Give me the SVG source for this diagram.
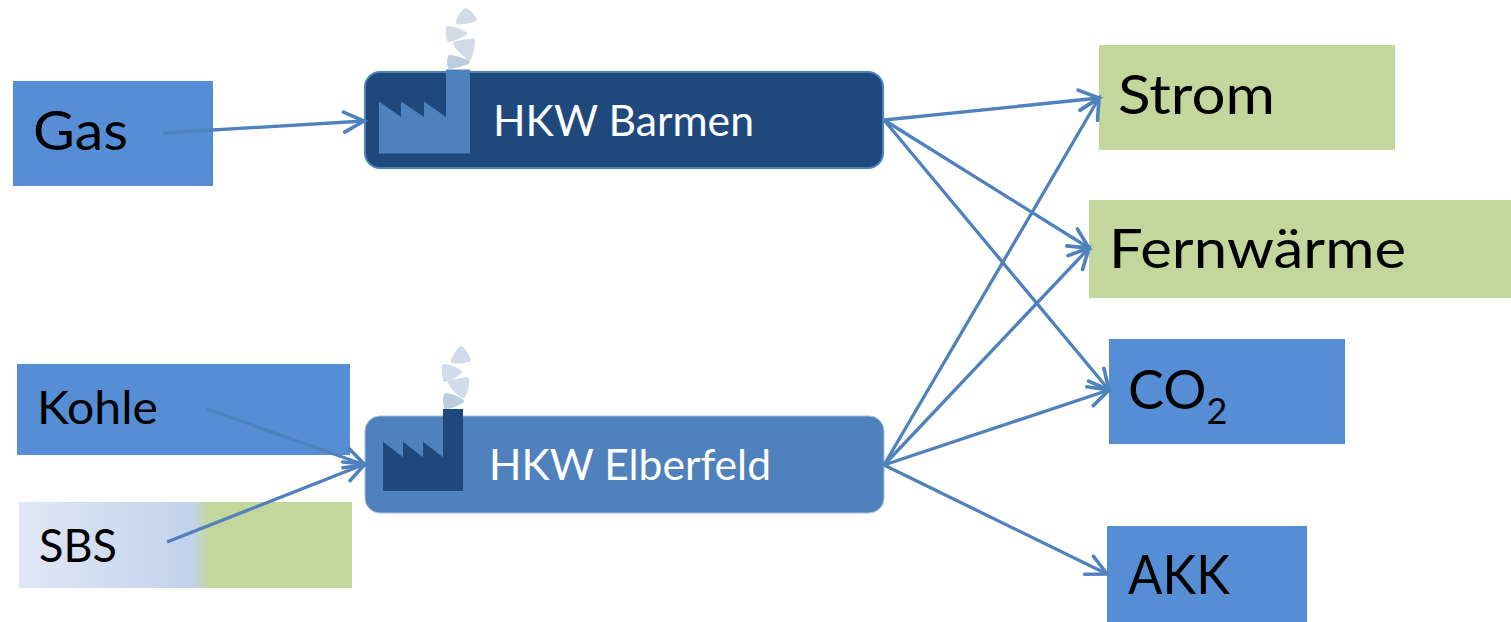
<svg xmlns="http://www.w3.org/2000/svg" width="1511" height="622" viewBox="0 0 1511 622">
<style>
text{font-family:"Lato","Carlito","Open Sans",sans-serif;fill:#000}
text.w{fill:#fff;font-size:42px}
.blue{fill:#558ed5}
.green{fill:#c3d69b}
.c{fill:none;stroke:#4f81bd;stroke-width:3.300;marker-end:url(#a)}
.p1{fill:#d2dce9;stroke:#d2dce9;stroke-width:4;stroke-linejoin:round}
.p2{fill:#bccde0;stroke:#bccde0;stroke-width:4;stroke-linejoin:round}
</style>
<defs>
<linearGradient id="g" x1="0" y1="0" x2="1" y2="0"><stop offset="0" stop-color="#e1e7f5"/><stop offset=".52" stop-color="#c2d2ec"/><stop offset=".57" stop-color="#c3d69b"/><stop offset="1" stop-color="#c3d69b"/></linearGradient>
<marker id="a" viewBox="-24 -14 28 28" refX="0" refY="0" markerWidth="28" markerHeight="28" markerUnits="userSpaceOnUse" orient="auto"><path d="M-20,-10L0,0L-20,10" fill="none" stroke="#4f81bd" stroke-width="3.600" stroke-linecap="round"/></marker>
</defs>
<g id="gas"><rect class="blue" x="13" y="81" width="200" height="105"/><text x="33" y="150" font-size="55" textLength="95" lengthAdjust="spacingAndGlyphs">Gas</text></g>
<g id="kohle"><rect class="blue" x="17" y="364" width="333" height="91"/><text x="37" y="424" font-size="47" textLength="121" lengthAdjust="spacingAndGlyphs">Kohle</text></g>
<g id="sbs"><rect fill="url(#g)" x="19" y="502" width="333" height="86"/><text x="39" y="562" font-size="47" textLength="78" lengthAdjust="spacingAndGlyphs">SBS</text></g>
<g id="strom"><rect class="green" x="1099" y="45" width="296" height="105"/><text x="1118" y="114" font-size="55" textLength="157" lengthAdjust="spacingAndGlyphs">Strom</text></g>
<g id="fernwaerme"><rect class="green" x="1089" y="200" width="422" height="98"/><text x="1109" y="268" font-size="55" textLength="297" lengthAdjust="spacingAndGlyphs">Fernwärme</text></g>
<g id="co2"><rect class="blue" x="1109" y="339" width="236" height="105"/><text x="1128" y="409" font-size="54">CO<tspan font-size="36" dy="15">2</tspan></text></g>
<g id="akk"><rect class="blue" x="1107" y="526" width="200" height="96"/><text x="1128" y="594" font-size="55" textLength="102" lengthAdjust="spacingAndGlyphs">AKK</text></g>
<g id="barmen"><rect x="365" y="72" width="518" height="96" rx="15" fill="#1f497d" stroke="#4f81bd" stroke-width="2"/>
<path fill="#4f81bd" d="M379,153.500V101.500L401,117V101.500L424,117V101.500L446,117V69.500H470V153.500Z"/>
<g transform="translate(1 0)"><path class="p1" d="M464.500,10Q470,13 474,19.500Q466,22 457,22.500Q459,14 464.500,10Z"/><path class="p1" d="M447,28Q456,29 464,33.500Q457,38 448,40Q446,34 447,28Z"/><path class="p1" d="M472,40.500Q463,41 454,43.500Q459,52 468,58Q472,50 472,40.500Z"/><path class="p2" d="M449,57Q458,58 467,62Q458,66 449,67Q447,62 449,57Z"/></g>
<text class="w" x="493" y="136" textLength="261" lengthAdjust="spacingAndGlyphs">HKW Barmen</text></g>
<g id="elberfeld"><rect x="365" y="416" width="519" height="97" rx="15" fill="#4f81bd" stroke="#a3bfdf" stroke-width="1"/>
<path fill="#1f497d" d="M383,491V441.700L403,457.300V441.700L423,457.300V441.700L443,457.300V409H463V491Z"/>
<g transform="translate(1 0)"><path class="p1" d="M460,348Q465,352 468,360Q460,362 452,361.500Q454,353 460,348Z"/><path class="p1" d="M443,366Q452,367 459,372Q452,378 444,380Q442,373 443,366Z"/><path class="p1" d="M466,379Q457,380 449,382.500Q453,391 462,396Q467,389 466,379Z"/><path class="p2" d="M445,395Q453,396 461,401Q453,406 445,407Q443,401 445,395Z"/></g>
<text class="w" x="489" y="480" textLength="282" lengthAdjust="spacingAndGlyphs">HKW Elberfeld</text></g>
<g id="connectors">
<path class="c" d="M163,133L364,121"/>
<path class="c" d="M207,409L365,465"/>
<path class="c" d="M167,542L365,464"/>
<path class="c" d="M884,120L1099,98"/>
<path class="c" d="M884,120L1089,248"/>
<path class="c" d="M884,120L1109,390"/>
<path class="c" d="M884,465L1099,98"/>
<path class="c" d="M884,465L1089,248"/>
<path class="c" d="M884,465L1109,390"/>
<path class="c" d="M884,465L1107,574"/>
</g>
</svg>
